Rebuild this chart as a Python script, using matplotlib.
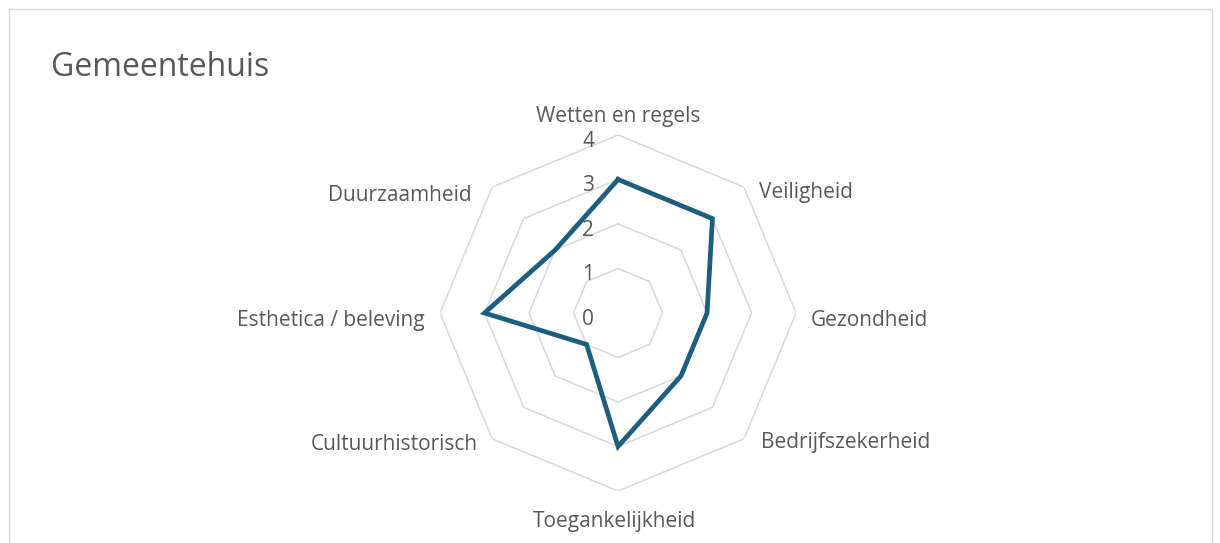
import numpy as np
import matplotlib.pyplot as plt
from matplotlib.patches import Rectangle

plt.rcParams['font.family'] = ['Open Sans', 'DejaVu Sans']

titel = "Gemeentehuis"
categorieen = ["Wetten en regels", "Veiligheid", "Gezondheid", "Bedrijfszekerheid",
               "Toegankelijkheid", "Cultuurhistorisch", "Esthetica / beleving", "Duurzaamheid"]
waarden = [3, 3, 2, 2, 3, 1, 3, 2]
ringen = [0, 1, 2, 3, 4]

lijnkleur = "#1B5E7E"
rasterkleur = "#D9D9D9"
tekstkleur = "#595959"

fig = plt.figure(figsize=(12.2, 5.43), dpi=100)
fig.patches.append(Rectangle((9 / 1220, -0.1), 1203 / 1220, 1.1 - 9 / 543,
                             transform=fig.transFigure, fill=False,
                             edgecolor=rasterkleur, linewidth=1))
fig.text(51 / 1220, 1 - 76 / 543, titel, fontsize=23, color=tekstkleur, va="baseline")

ax = fig.add_axes([0.3607, 0.0958, 0.2918, 0.6556], projection="polar")
ax.set_theta_zero_location("N")
ax.set_theta_direction(-1)
ax.set_ylim(0, 4)
ax.grid(False)
ax.spines["polar"].set_visible(False)
ax.set_xticks([])
ax.set_yticks([])
ax.patch.set_alpha(0)

n = len(categorieen)
hoeken = np.linspace(0, 2 * np.pi, n, endpoint=False)
hoeken_dicht = np.append(hoeken, hoeken[0])

# achthoekige rasterlijnen
for r in ringen[1:]:
    ax.plot(hoeken_dicht, [r] * (n + 1), color=rasterkleur, linewidth=1.1, zorder=1)

# as-labels
for r in ringen:
    ax.annotate(str(r), (0, r), xytext=(-30, -12), textcoords="offset pixels",
                ha="center", va="baseline", fontsize=15, color=tekstkleur,
                annotation_clip=False)

# categorie labels (pixel-offset t.o.v. het hoekpunt op 4)
offsets = [(0, 13, "center"), (15, -11, "left"), (15, -13, "left"), (17, -9, "left"),
           (-4, -36, "center"), (-14, -11, "right"), (-15, -13, "right"), (-21, -14, "right")]
for hoek, naam, (dx, dy, ha) in zip(hoeken, categorieen, offsets):
    ax.annotate(naam, (hoek, 4), xytext=(dx, dy), textcoords="offset pixels",
                ha=ha, va="baseline", fontsize=15, color=tekstkleur,
                annotation_clip=False)

ax.plot(hoeken_dicht, waarden + waarden[:1], color=lijnkleur, linewidth=3.4,
        solid_joinstyle="miter", zorder=3)

fig.savefig("out.png", dpi=100)
